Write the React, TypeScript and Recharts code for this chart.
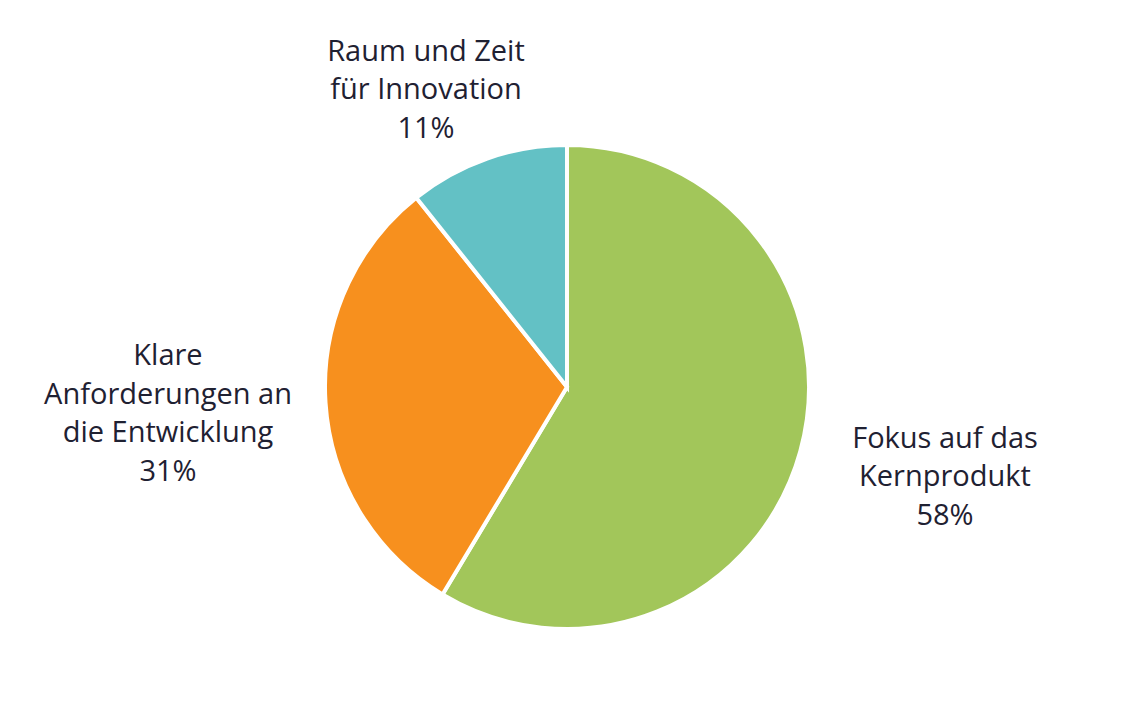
import React from "react";
import { PieChart, Pie, Cell } from "recharts";

const categories = [
  ["Fokus auf das", "Kernprodukt"],
  ["Klare", "Anforderungen an", "die Entwicklung"],
  ["Raum und Zeit", "für Innovation"],
];
const values = [58.6, 30.7, 10.7];
// percentage text as printed in the labels
const percentLabels = ["58%", "31%", "11%"];
const colors = ["#A2C65A", "#F7901E", "#63C1C5"];

// label block centre offsets from pie centre (layout only)
const labelOffsets = [
  { dx: 378, dy: 87 },
  { dx: -399, dy: 24 },
  { dx: -141, dy: -300 },
];

const data = values.map((v, i) => ({ name: categories[i].join(" "), value: v }));

const LINE_H = 38.5;

const renderLabel = (props: any) => {
  const { cx, cy, index } = props;
  const lines = [...categories[index], percentLabels[index]];
  const off = labelOffsets[index];
  const x = cx + off.dx;
  const yc = cy + off.dy;
  const y0 = yc - ((lines.length - 1) * LINE_H) / 2;
  return (
    <text
      key={`lbl-${index}`}
      x={x}
      y={y0}
      textAnchor="middle"
      dominantBaseline="central"
      fill="#1F2132"
      fontFamily="'Open Sans', sans-serif"
      fontSize={29}
    >
      {lines.map((l, i) => (
        <tspan key={i} x={x} y={y0 + i * LINE_H} dominantBaseline="central">
          {l}
        </tspan>
      ))}
    </text>
  );
};

export default function App() {
  return (
    <div style={{ position: "absolute", left: 0, top: 0, width: 1130, height: 702, background: "#fff" }}>
      <PieChart width={1130} height={702} margin={{ top: 0, right: 0, bottom: 0, left: 0 }}>
        <Pie
          data={data}
          dataKey="value"
          cx={567}
          cy={387}
          outerRadius={242}
          startAngle={90}
          endAngle={-270}
          stroke="#ffffff"
          strokeWidth={4}
          label={renderLabel}
          labelLine={false}
          isAnimationActive={false}
        >
          {data.map((d, i) => (
            <Cell key={i} fill={colors[i]} />
          ))}
        </Pie>
      </PieChart>
    </div>
  );
}
